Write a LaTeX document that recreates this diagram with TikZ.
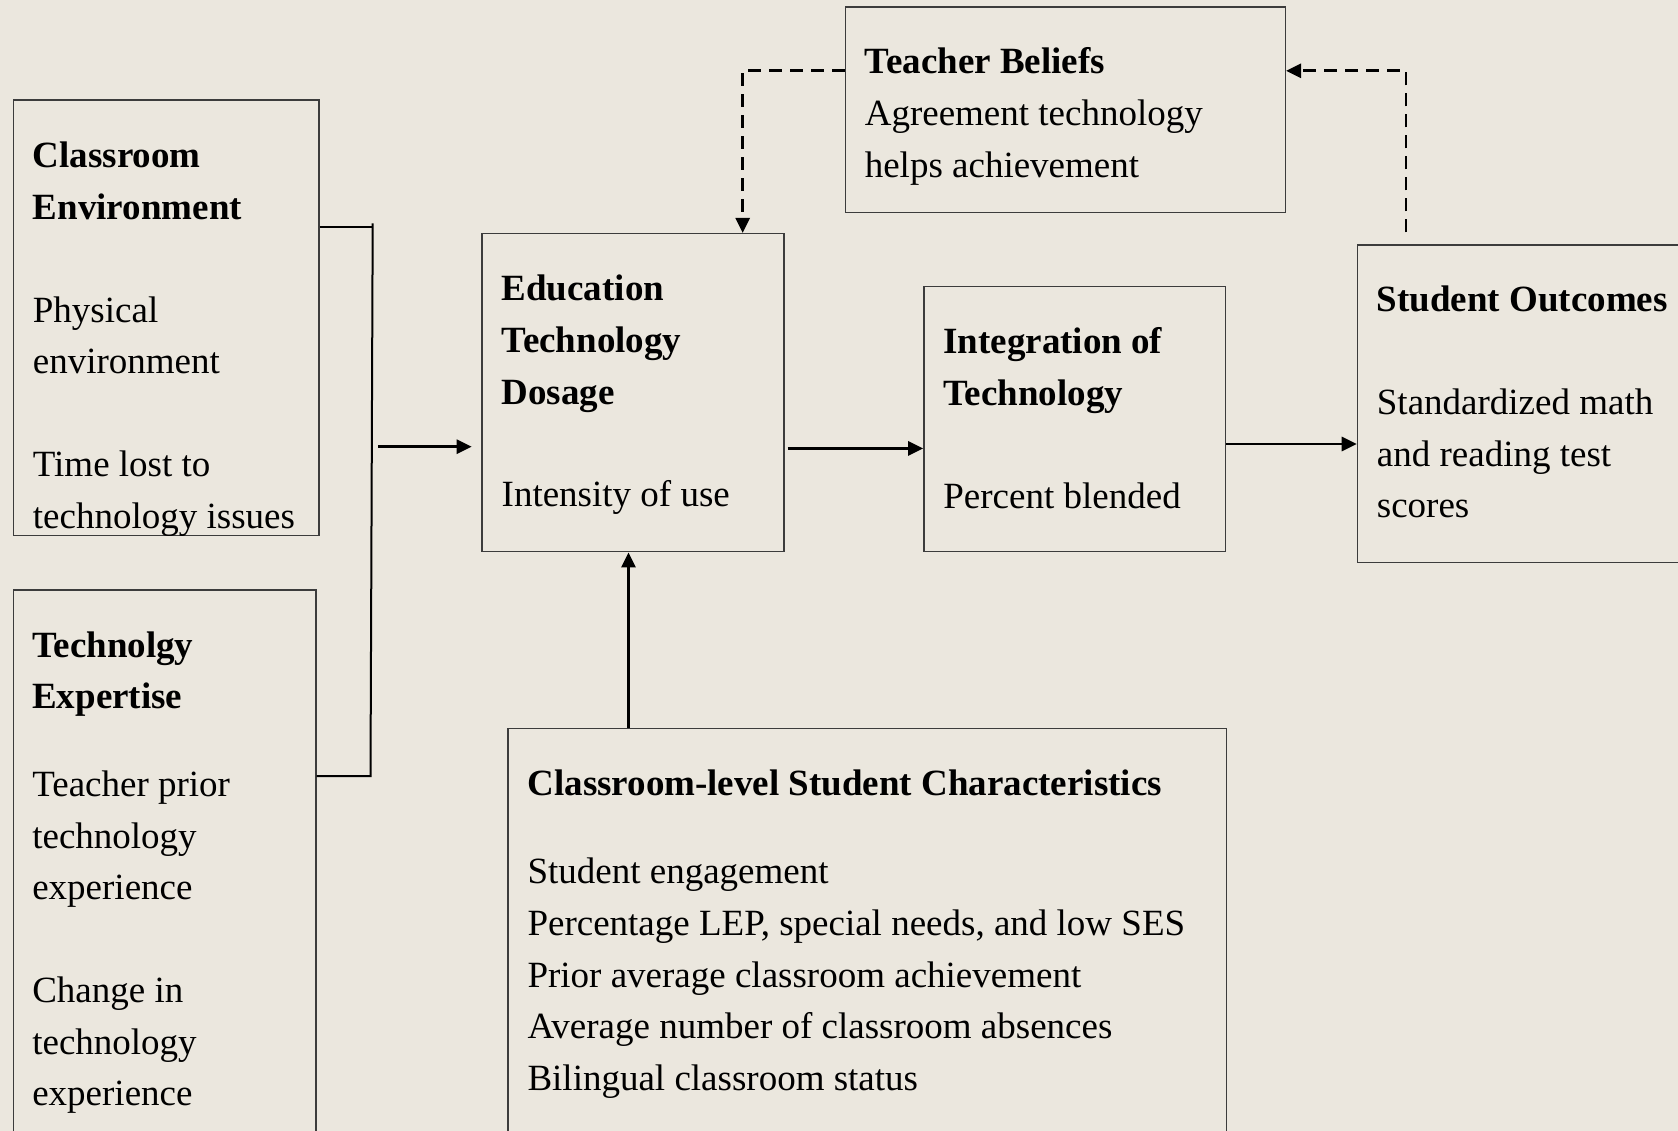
\documentclass[tikz,border=0pt]{standalone}
\usepackage{fontspec}
\setmainfont{Liberation Serif}
\usetikzlibrary{arrows.meta,calc}
\definecolor{bgc}{RGB}{235,231,222}
\definecolor{boxline}{RGB}{60,60,60}
\begin{document}
\begin{tikzpicture}[x=1pt,y=-1pt,
  box/.style={draw=boxline, line width=1.4pt, inner sep=0pt, anchor=north west},
  txt/.style={anchor=north west, inner sep=0pt, align=left, font=\fontsize{37}{51.6}\selectfont},
  arr/.style={line width=2.8pt, -{Triangle[length=15pt,width=14pt]}},
  darr/.style={arr, dash pattern=on 13pt off 8pt},
  bline/.style={line width=2pt}]
\useasboundingbox (0,0) rectangle (1678,1131);
\fill[bgc] (0,0) rectangle (1678,1131);
\clip (0,0) rectangle (1678,1131);

% boxes
\node[box, minimum width=440.1pt, minimum height=205.3pt] (tb) at (844.6,6.3) {};
\node[box, minimum width=305.6pt, minimum height=435.7pt] (ce) at (12.7,99.3) {};
\node[box, minimum width=302.7pt, minimum height=600pt] (te) at (12.5,589.1) {};
\node[box, minimum width=301.9pt, minimum height=318pt] (edu) at (481.4,233) {};
\node[box, minimum width=301.8pt, minimum height=264.5pt] (integ) at (923.2,286) {};
\node[box, minimum width=400pt, minimum height=317.6pt] (so) at (1356.7,244.2) {};
\node[box, minimum width=718.6pt, minimum height=500pt] (cl) at (507.4,728) {};

% texts
\node[txt] (tbt) at (864.6,37.5) {\strut\textbf{Teacher Beliefs}\\Agreement technology\\helps achievement};
\node[txt] (cet) at (32.7,131.4) {\strut\textbf{Classroom}\\\textbf{Environment}\\[51.3pt]Physical\\environment\\[51.3pt]Time lost to\\technology issues};
\node[txt] (tet) at (32.1,621) {\strut\textbf{Technolgy}\\\textbf{Expertise}\\[36pt]Teacher prior\\technology\\experience\\[51.3pt]Change in\\technology\\experience};
\node[txt] (edut) at (501.5,264.5) {\strut\textbf{Education}\\\textbf{Technology}\\\textbf{Dosage}\\[51.3pt]Intensity of use};
\node[txt] (integt) at (943.2,317.5) {\strut\textbf{Integration of}\\\textbf{Technology}\\[51.3pt]Percent blended};
\node[txt] (sot) at (1376.7,275.5) {\strut\textbf{Student Outcomes}\\[51.3pt]Standardized math\\and reading test\\scores};
\node[txt] (clt) at (527.3,759.5) {\strut\textbf{Classroom-level Student Characteristics}\\[36.4pt]Student engagement\\Percentage LEP, special needs, and low SES\\Prior average classroom achievement\\Average number of classroom absences\\Bilingual classroom status};

% coordinates
\coordinate (b1) at (372.7,226.7);
\coordinate (b0) at (372.7,223.3);
\coordinate (b2) at (370.5,776);
\coordinate (a0) at (378.3,446.7);
\coordinate (a1) at (787.7,448.4);
\coordinate (a2) at (1226,444);
\coordinate (a3) at (628.5,640);
\coordinate (d1) at (742.7,70.3);
\coordinate (d2) at (1406,232.3);
\coordinate (d3) at (1406,70.8);

% bracket
\draw[bline] (b1 -| ce.east) -- (b1);
\draw[bline] (b0) -- (b2) -- (b2 -| te.east);

% arrows
\draw[arr] (a0) -- ($(a0 -| edu.west)+(-9.7,0)$);
\draw[arr] (a1) -- (a1 -| integ.west);
\draw[arr] (a2 -| integ.east) -- (a2 -| so.west);
\draw[arr] (a3 |- cl.north) -- (a3 |- edu.south);

% dashed
\draw[darr] (tb.west |- d1) -- (d1) -- (d1 |- edu.north);
\draw[darr] (d2) -- (d3) -- (d3 -| tb.east);
\end{tikzpicture}
\end{document}
